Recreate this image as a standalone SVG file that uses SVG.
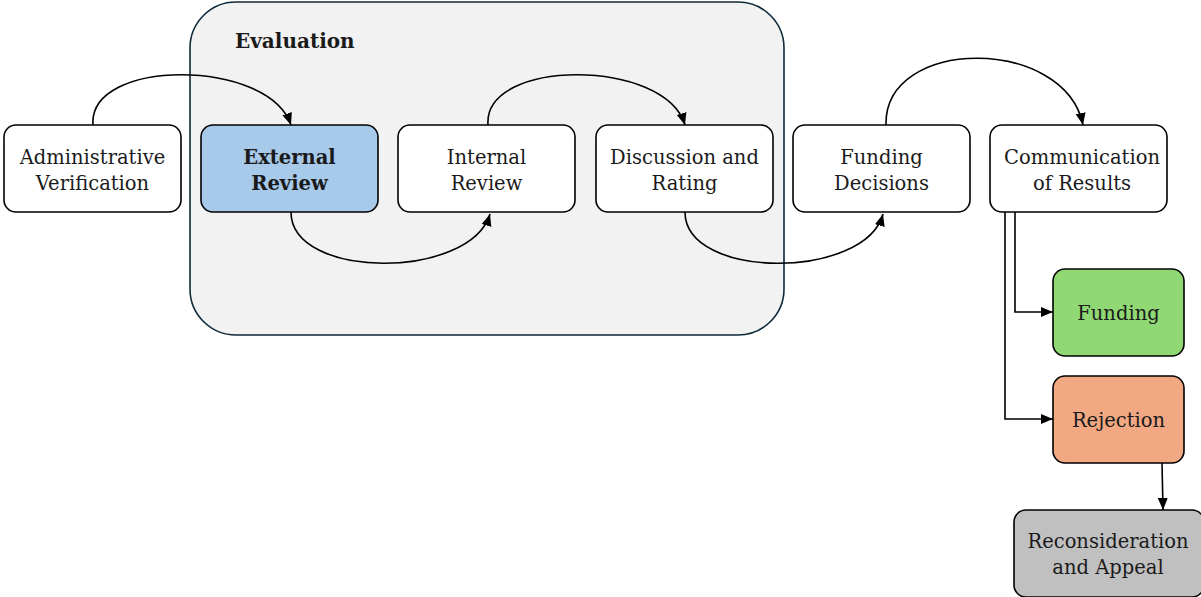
<svg xmlns="http://www.w3.org/2000/svg" width="1201" height="597" viewBox="0 0 1201 597">
<defs>
<marker id="ah" viewBox="0 0 12 11" refX="12" refY="5.5" markerWidth="12" markerHeight="11" markerUnits="userSpaceOnUse" orient="auto">
<path d="M0,0.5 L12,5.5 L0,10.5 z" fill="#000"/>
</marker>
<style>
.n{stroke:#000;stroke-width:1.6}
.t{font-family:'DejaVu Serif',serif;font-size:19.5px;fill:#1a1a1a;text-anchor:middle}
.b{font-weight:bold}
.c{fill:none;stroke:#000;stroke-width:1.6;marker-end:url(#ah)}
</style>
</defs>
<rect width="1201" height="597" fill="#fff"/>
<g id="evaluation">
<rect x="190" y="2" width="594" height="333" rx="46" fill="#f2f2f2" stroke="#0f2a3a" stroke-width="1.6"/>
<text x="235" y="48" class="t b" style="text-anchor:start;font-size:20px">Evaluation</text>
</g>
<g id="admin"><rect class="n" x="4" y="125" width="177" height="87" rx="12" fill="#fff"/>
<text class="t" x="92.5" y="164">Administrative</text><text class="t" x="92.5" y="190">Verification</text></g>
<g id="external"><rect class="n" x="201" y="125" width="177" height="87" rx="12" fill="#a7c9ea"/>
<text class="t b" x="289.5" y="164">External</text><text class="t b" x="289.5" y="190">Review</text></g>
<g id="internal"><rect class="n" x="398" y="125" width="177" height="87" rx="12" fill="#fff"/>
<text class="t" x="486.5" y="164">Internal</text><text class="t" x="486.5" y="190">Review</text></g>
<g id="discussion"><rect class="n" x="596" y="125" width="177" height="87" rx="12" fill="#fff"/>
<text class="t" x="684.5" y="164">Discussion and</text><text class="t" x="684.5" y="190">Rating</text></g>
<g id="funding-decisions"><rect class="n" x="793" y="125" width="177" height="87" rx="12" fill="#fff"/>
<text class="t" x="881.5" y="164">Funding</text><text class="t" x="881.5" y="190">Decisions</text></g>
<g id="communication"><rect class="n" x="990" y="125" width="177" height="87" rx="12" fill="#fff"/>
<text class="t" x="1082" y="164">Communication</text><text class="t" x="1082" y="190">of Results</text></g>
<g id="funding"><rect class="n" x="1053" y="269" width="131" height="87" rx="12" fill="#8fd873"/>
<text class="t" x="1118.5" y="320">Funding</text></g>
<g id="rejection"><rect class="n" x="1053" y="376" width="131" height="87" rx="12" fill="#f2a882"/>
<text class="t" x="1118.5" y="427">Rejection</text></g>
<g id="reconsideration"><rect class="n" x="1014" y="510" width="190" height="87" rx="12" fill="#c0c0c0"/>
<text class="t" x="1108" y="548">Reconsideration</text><text class="t" x="1108" y="574">and Appeal</text></g>
<g id="connectors">
<path class="c" d="M93,125 C88,58 268,58 291,125"/>
<path class="c" d="M291,212 C291,280 470,280 490,214"/>
<path class="c" d="M488,125 C483,58 665,58 685,125"/>
<path class="c" d="M685,212 C685,280 865,280 883,214"/>
<path class="c" d="M886,125 C884,36 1065,36 1083,125"/>
<path class="c" d="M1015,212 V312 H1053"/>
<path class="c" d="M1005,212 V419 H1053"/>
<path class="c" d="M1162,463 L1163,510"/>
</g>
</svg>
